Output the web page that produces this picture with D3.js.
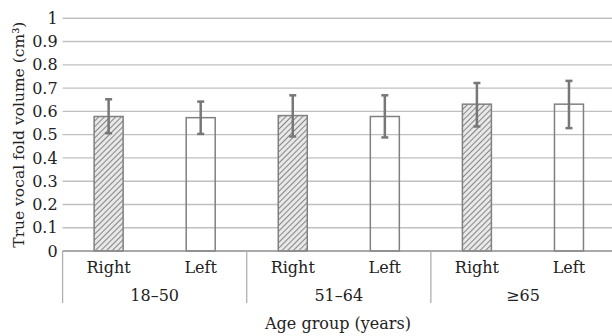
<!DOCTYPE html>
<html>
<head>
<meta charset="utf-8">
<script src="https://cdn.jsdelivr.net/npm/d3@7"></script>
<style>
  body { margin: 0; background: #fff; }
  text { font-family: "DejaVu Serif", serif; fill: #222; }
</style>
</head>
<body>
<svg id="chart" width="612" height="336"></svg>
<script>
// chart values
const groups = ["18\u201350", "51\u201364", "\u226565"];
const sides = ["Right", "Left"];
const means = [0.578, 0.573, 0.582, 0.578, 0.631, 0.631];
const errTop = [0.652, 0.642, 0.669, 0.669, 0.722, 0.731];
const errBottom = [0.506, 0.503, 0.492, 0.488, 0.535, 0.528];
const yTicks = [0, 0.1, 0.2, 0.3, 0.4, 0.5, 0.6, 0.7, 0.8, 0.9, 1];

const svg = d3.select('#chart');
const fontSize = 16;
const margin = {left: 62.6, right: -3, top: 18.3, bottom: 85};
const W = 612, H = 336;
const plotBottom = H - margin.bottom;

let bars = [];
groups.forEach((g, gi) => sides.forEach((s, si) => {
    const i = gi * 2 + si;
    bars.push({key: g + '|' + s, group: g, side: s, mean: means[i], hi: errTop[i], lo: errBottom[i]});
}));

const x = d3.scaleBand()
    .domain(bars.map(d => d.key))
    .range([margin.left, W - margin.right])
    .paddingInner(0.685).paddingOuter(0.3425);
const step = x.step();
const y = d3.scaleLinear().domain([0, 1]).range([plotBottom, margin.top]);

// hatch pattern
const defs = svg.append('defs');
const pat = defs.append('pattern')
    .attr('id', 'hatch')
    .attr('patternUnits', 'userSpaceOnUse')
    .attr('width', 4).attr('height', 4)
    .attr('patternTransform', 'rotate(45)');
pat.append('rect').attr('width', 4).attr('height', 4).attr('fill', '#e8e8e8');
pat.append('line')
    .attr('x1', 0).attr('y1', 0).attr('x2', 0).attr('y2', 4)
    .attr('stroke', '#858585').attr('stroke-width', 2);

// grid
svg.append('g').selectAll('line').data(yTicks.filter(d => d > 0))
    .join('line')
    .attr('x1', margin.left).attr('x2', W)
    .attr('y1', d => y(d)).attr('y2', d => y(d))
    .style('stroke', '#c0c0c0')
    .style('stroke-width', 1.4);

// y tick labels
svg.append('g').selectAll('text').data(yTicks)
    .join('text')
    .attr('x', margin.left - 5)
    .attr('y', d => y(d))
    .attr('dy', '0.35em')
    .attr('text-anchor', 'end')
    .style('font-size', fontSize + 'px')
    .text(d => d3.format('~g')(d));

// bars
svg.append('g').selectAll('rect').data(bars)
    .join('rect')
    .attr('x', d => x(d.key))
    .attr('width', x.bandwidth())
    .attr('y', d => y(d.mean))
    .attr('height', d => y(0) - y(d.mean))
    .attr('fill', d => d.side === 'Right' ? 'url(#hatch)' : 'none')
    .attr('stroke', '#808080')
    .attr('stroke-width', 1.5);

// error bars
const eb = svg.append('g')
    .style('stroke', '#777')
    .style('stroke-width', 2.5);
const cx = d => x(d.key) + x.bandwidth() / 2;
eb.selectAll('line.v').data(bars).join('line').attr('class', 'v')
    .attr('x1', cx).attr('x2', cx)
    .attr('y1', d => y(d.hi)).attr('y2', d => y(d.lo));
eb.selectAll('line.t').data(bars).join('line').attr('class', 't')
    .attr('x1', d => cx(d) - 3.5).attr('x2', d => cx(d) + 3.5)
    .attr('y1', d => y(d.hi)).attr('y2', d => y(d.hi));
eb.selectAll('line.b').data(bars).join('line').attr('class', 'b')
    .attr('x1', d => cx(d) - 3.5).attr('x2', d => cx(d) + 3.5)
    .attr('y1', d => y(d.lo)).attr('y2', d => y(d.lo));

// x axis line
svg.append('line')
    .attr('x1', margin.left).attr('x2', W)
    .attr('y1', plotBottom).attr('y2', plotBottom)
    .style('stroke', '#8c8c8c').style('stroke-width', 1.6);

// group separators
const seps = d3.range(groups.length + 1).map(i => margin.left + i * 2 * step);
svg.append('g').selectAll('line').data(seps)
    .join('line')
    .attr('x1', d => d).attr('x2', d => d)
    .attr('y1', plotBottom).attr('y2', plotBottom + 52)
    .style('stroke', '#b0b0b0').style('stroke-width', 1.3);

// side labels
svg.append('g').selectAll('text').data(bars)
    .join('text')
    .attr('x', cx)
    .attr('y', plotBottom + 22)
    .attr('text-anchor', 'middle')
    .style('font-size', fontSize + 'px')
    .text(d => d.side);

// group labels
svg.append('g').selectAll('text').data(groups)
    .join('text')
    .attr('x', (d, i) => margin.left + (i * 2 + 1) * step)
    .attr('y', plotBottom + 50)
    .attr('text-anchor', 'middle')
    .style('font-size', fontSize + 'px')
    .text(d => d);

// axis titles
svg.append('text')
    .attr('x', 338).attr('y', 329)
    .attr('text-anchor', 'middle')
    .style('font-size', fontSize + 'px')
    .text('Age group (years)');

svg.append('text')
    .attr('transform', `translate(24,${(plotBottom + margin.top) / 2}) rotate(-90)`)
    .attr('text-anchor', 'middle')
    .style('font-size', '15.5px')
    .text('True vocal fold volume (cm\u00b3)');
</script>
</body>
</html>
